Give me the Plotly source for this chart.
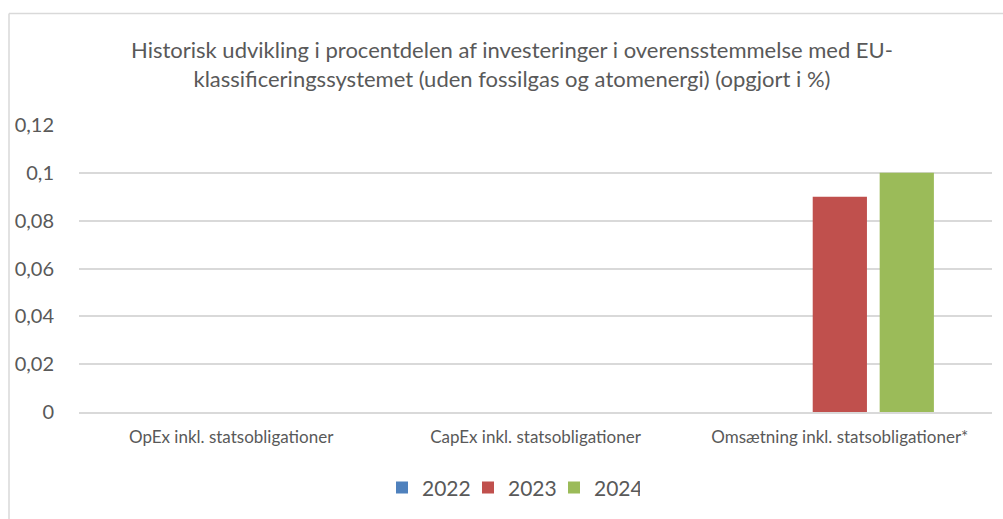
import plotly.graph_objects as go

categories = ["OpEx inkl. statsobligationer", "CapEx inkl. statsobligationer", "Omsætning inkl. statsobligationer*"]
years = ["2022", "2023", "2024"]
values_2022 = [0, 0, 0]
values_2023 = [0, 0, 0.09]
values_2024 = [0, 0, 0.1]
colors = ["#4F81BD", "#C0504D", "#9BBB59"]
title_text = "Historisk udvikling i procentdelen af investeringer i overensstemmelse med EU-<br>klassificeringssystemet (uden fossilgas og atomenergi) (opgjort i %)"

W, H = 1003, 519
L, R, T, B = 79, 11, 125, 103
FONT = "Lato"

fig = go.Figure()
for name, vals, c in zip(years, [values_2022, values_2023, values_2024], colors):
    fig.add_trace(go.Bar(name=name, x=categories, y=vals, marker=dict(color=c, line=dict(width=0))))

pw = W - L - R
ph = H - T - B
def px_x(p):
    return (p - L) / pw
def px_y(p):
    return (H - B - p) / ph

fig.update_layout(
    width=W, height=H,
    margin=dict(l=L, r=R, t=T, b=B),
    paper_bgcolor="white", plot_bgcolor="white",
    separators=",.",
    barmode="group", bargap=0.34, bargroupgap=0.19,
    font=dict(family=FONT, color="#595959"),
    xaxis=dict(showgrid=False, showline=True, linecolor="#D9D9D9", linewidth=1.5,
               ticks="", ticklabelstandoff=9, tickfont=dict(size=17, color="#595959")),
    yaxis=dict(range=[0, 0.12], dtick=0.02, tick0=0, showgrid=True, gridcolor="#D9D9D9", gridwidth=1.5,
               zeroline=False, showline=False, ticks="", ticklabelstandoff=24,
               tickfont=dict(size=20, color="#595959")),
    legend=dict(orientation="h", x=px_x(511), xanchor="center", y=px_y(493), yanchor="middle",
                font=dict(size=21, color="#595959"), itemwidth=30, entrywidth=41, traceorder="normal"),
    showlegend=True,
)
fig.add_annotation(text=title_text, xref="paper", yref="paper", x=px_x(512), y=px_y(63),
                   xanchor="center", yanchor="middle", showarrow=False,
                   font=dict(size=22, color="#595959", family=FONT), align="center")
# chart border
fig.add_shape(type="line", xref="paper", yref="paper", x0=px_x(9), x1=px_x(9), y0=px_y(12), y1=px_y(530),
              line=dict(color="#D9D9D9", width=1.5))
fig.add_shape(type="line", xref="paper", yref="paper", x0=px_x(9), x1=px_x(1010), y0=px_y(12), y1=px_y(12),
              line=dict(color="#D9D9D9", width=1.5))

fig.write_html("out.html", config={"displayModeBar": False},
               post_script="document.body.style.margin='0px';document.body.style.overflow='hidden';")
